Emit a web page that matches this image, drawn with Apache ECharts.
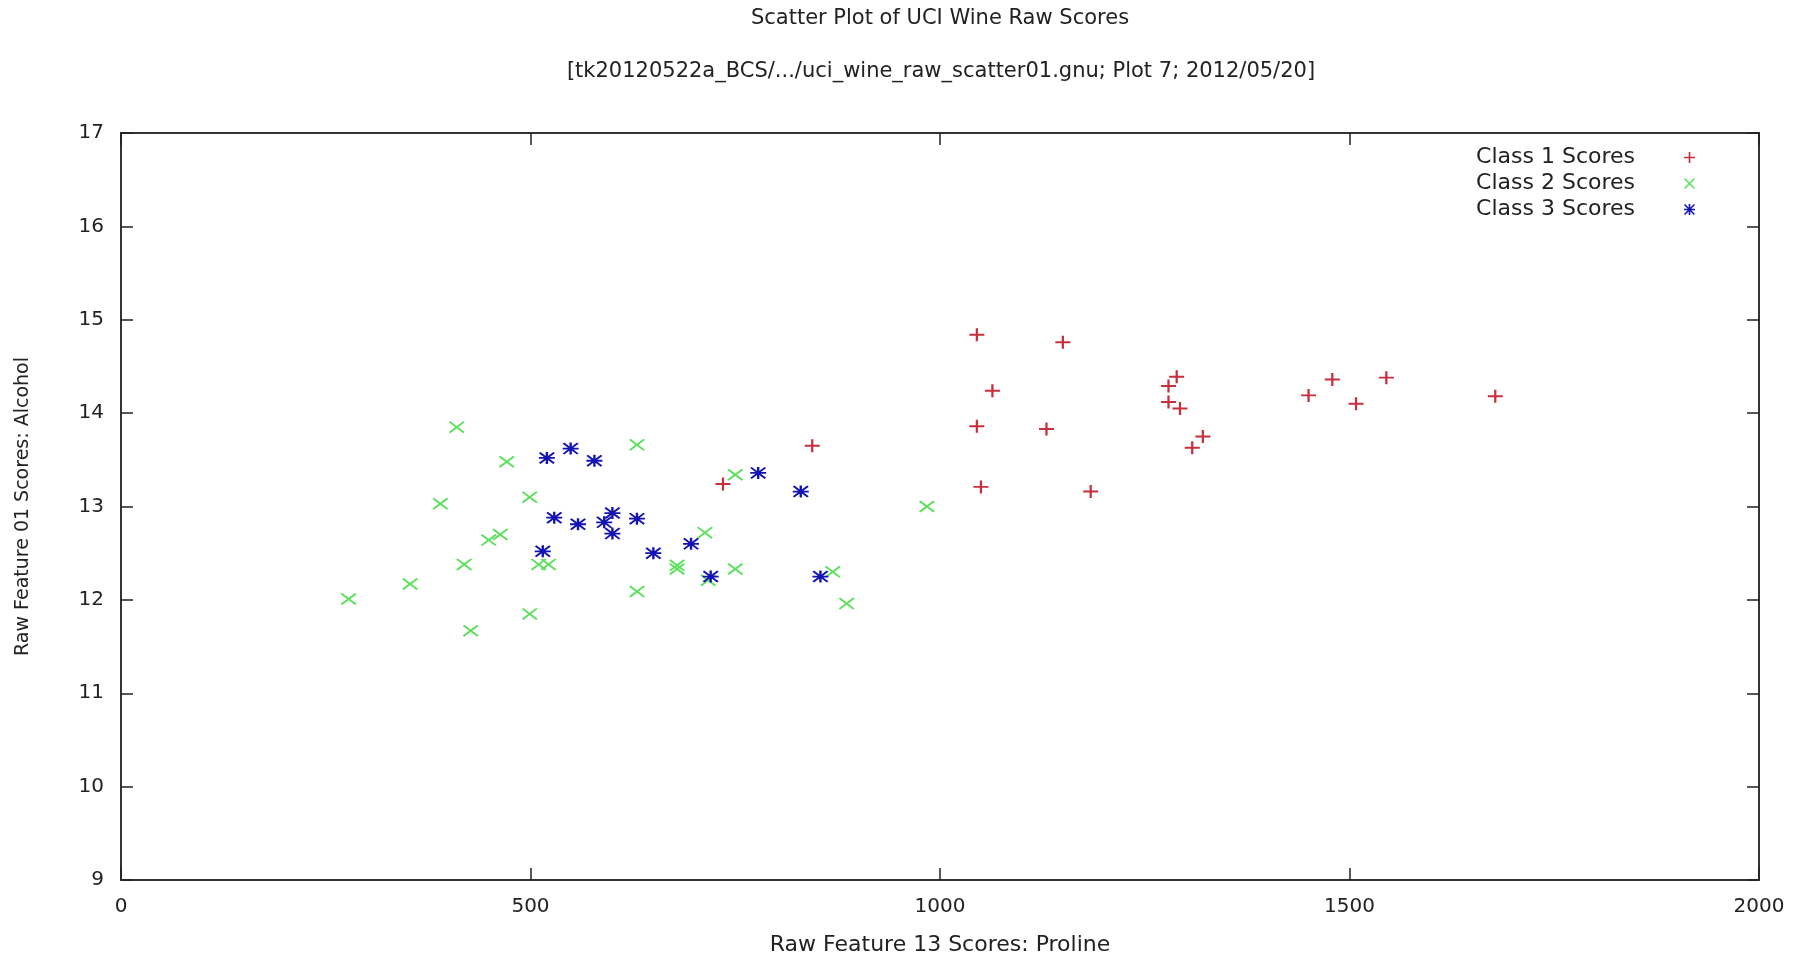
<!DOCTYPE html>
<html>
<head>
<meta charset="utf-8">
<script src="https://cdn.jsdelivr.net/npm/echarts@6/dist/echarts.min.js"></script>
<style>html,body{margin:0;padding:0;background:#fff;}#c{width:1809px;height:955px;}</style>
</head>
<body>
<div id="c"></div>
<script>
// ---- data (Proline, Alcohol) ----
const class1 = [
  [1045,14.84],[1150,14.76],[1064,14.24],[1045,13.86],[1130,13.83],[1050,13.21],[1184,13.16],
  [844,13.65],[735,13.24],[1289,14.39],[1279,14.29],[1279,14.12],[1293,14.05],[1321,13.75],
  [1308,13.63],[1450,14.19],[1479,14.36],[1508,14.10],[1545,14.38],[1678,14.18]
];
const class2 = [
  [410,13.85],[471,13.48],[630,13.66],[499,13.10],[390,13.03],[750,13.34],[463,12.70],
  [449,12.64],[419,12.38],[510,12.38],[522,12.38],[353,12.17],[278,12.01],[630,12.09],
  [499,11.85],[427,11.67],[713,12.72],[679,12.37],[679,12.33],[750,12.33],[717,12.21],
  [869,12.30],[886,11.96],[984,13.00]
];
const class3 = [
  [520,13.52],[549,13.62],[578,13.49],[778,13.36],[529,12.88],[558,12.81],[600,12.93],
  [590,12.83],[600,12.71],[630,12.87],[515,12.52],[650,12.50],[696,12.60],[720,12.25],
  [830,13.16],[854,12.25]
];
const seriesNames = ['Class 1 Scores','Class 2 Scores','Class 3 Scores'];
const titleText = 'Scatter Plot of UCI Wine Raw Scores';
const subtitleText = '[tk20120522a_BCS/.../uci_wine_raw_scatter01.gnu; Plot 7; 2012/05/20]';
const xName = 'Raw Feature 13 Scores: Proline';
const yName = 'Raw Feature 01 Scores: Alcohol';

const PLUS = 'path://M0,8.5H20V11.5H0Z M8.5,0H11.5V20H8.5Z';
const CROSS = 'path://M0,2L2,0L20,18L18,20Z M20,2L2,20L0,18L18,0Z';
const STAR = 'path://M0,8.5H20V11.5H0Z M8.5,0H11.5V20H8.5Z M0,2L2,0L20,18L18,20Z M20,2L2,20L0,18L18,0Z';

const FONT = 'DejaVu Sans';
const TXT = '#222';

const chart = echarts.init(document.getElementById('c'), null, {renderer:'canvas'});

function frameAxis(extra){
  return Object.assign({
    axisLine:{show:true, onZero:false, lineStyle:{color:'#333', width:2}},
    axisTick:{show:true, inside:true, length:12, lineStyle:{color:'#222', width:1.5}},
    splitLine:{show:false}
  }, extra);
}

chart.setOption({
  backgroundColor:'#fff',
  animation:false,
  title:[
    {text:titleText, left:935, textAlign:'center', top:3, textStyle:{fontFamily:FONT, fontSize:21, fontWeight:'normal', color:TXT}},
    {text:subtitleText, left:936, textAlign:'center', top:56, textStyle:{fontFamily:FONT, fontSize:21, fontWeight:'normal', color:TXT}}
  ],
  legend:{
    orient:'vertical', right:109, top:140, align:'right',
    itemWidth:15, itemHeight:11, itemGap:1,
    textStyle:{fontFamily:FONT, fontSize:22, lineHeight:25, color:TXT, padding:[0,42,0,0]},
    data:seriesNames
  },
  grid:{left:121, right:50, top:133, bottom:75, containLabel:false, outerBoundsMode:'none'},
  xAxis:[
    frameAxis({type:'value', min:0, max:2000, interval:500, position:'bottom',
      name:xName, nameLocation:'middle', nameGap:54,
      nameTextStyle:{fontFamily:FONT, fontSize:22, color:TXT},
      axisLabel:{fontFamily:FONT, fontSize:20, color:TXT, margin:17, formatter:function(v){return String(v);}}}),
    frameAxis({type:'value', min:0, max:2000, interval:500, position:'top', axisLabel:{show:false}})
  ],
  yAxis:[
    frameAxis({type:'value', min:9, max:17, interval:1, position:'left',
      name:yName, nameLocation:'middle', nameGap:88,
      nameTextStyle:{fontFamily:FONT, fontSize:19, color:TXT},
      axisLabel:{fontFamily:FONT, fontSize:20, color:TXT, margin:17}}),
    frameAxis({type:'value', min:9, max:17, interval:1, position:'right', axisLabel:{show:false}})
  ],
  series:[
    {name:seriesNames[0], type:'scatter', data:class1, symbol:PLUS, symbolSize:[15,13],
      itemStyle:{color:'#c62f3b', opacity:1}},
    {name:seriesNames[1], type:'scatter', data:class2, symbol:CROSS, symbolSize:[16,12],
      itemStyle:{color:'#5be05b', opacity:1}},
    {name:seriesNames[2], type:'scatter', data:class3, symbol:STAR, symbolSize:[16,12],
      itemStyle:{color:'#1414b4', opacity:1}}
  ]
});
</script>
</body>
</html>
